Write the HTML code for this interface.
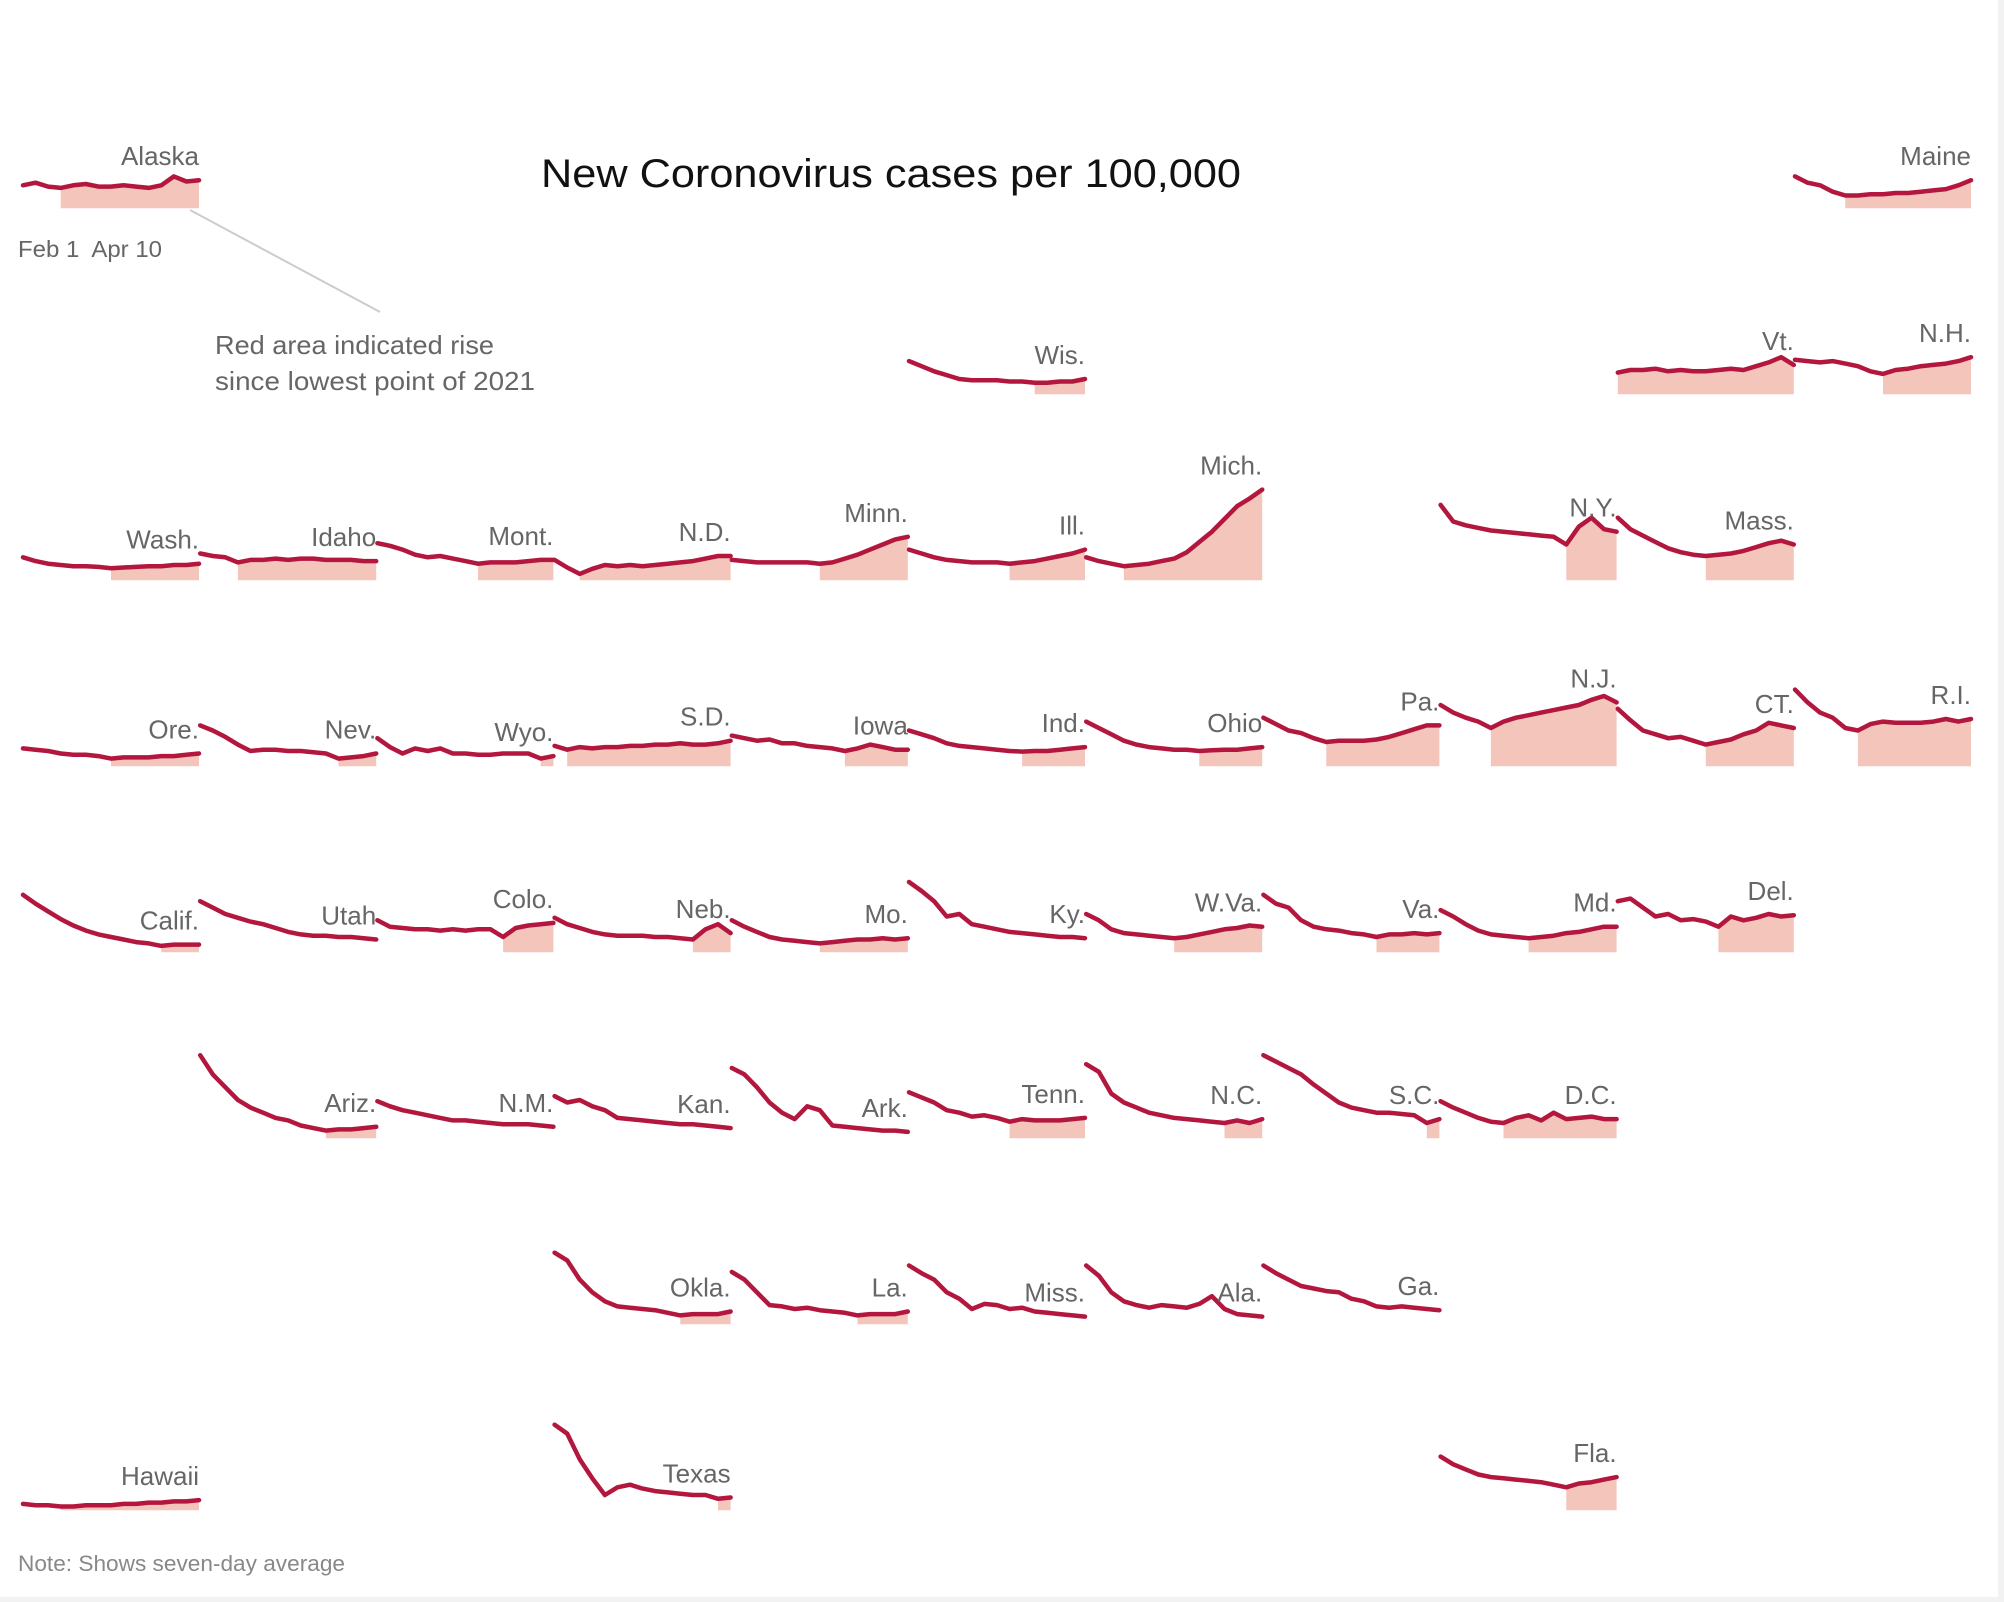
<!DOCTYPE html>
<html><head><meta charset="utf-8">
<style>
html,body{margin:0;padding:0;background:#fff;}
svg{display:block;}
text{font-family:"Liberation Sans",sans-serif;}
</style></head>
<body>
<svg id="chart" width="2004" height="1602" viewBox="0 0 2004 1602">
  <rect x="1998" y="0" width="6" height="1602" fill="#f2f2f2"/>
  <rect x="0" y="1597" width="2004" height="5" fill="#f2f2f2"/>
  <text x="891" y="187" font-size="40" fill="#111" text-anchor="middle" textLength="700" lengthAdjust="spacingAndGlyphs">New Coronovirus cases per 100,000</text>
  <text x="18" y="257" font-size="23" fill="#666" xml:space="preserve" textLength="144" lengthAdjust="spacingAndGlyphs">Feb 1  Apr 10</text>
  <line x1="190" y1="210" x2="380" y2="312" stroke="#ccc" stroke-width="2"/>
  <text x="215" y="354" font-size="26" fill="#666" textLength="279" lengthAdjust="spacingAndGlyphs">Red area indicated rise</text>
  <text x="215" y="390" font-size="26" fill="#666" textLength="320" lengthAdjust="spacingAndGlyphs">since lowest point of 2021</text>
  <text x="18" y="1571" font-size="22" fill="#888" textLength="327" lengthAdjust="spacingAndGlyphs">Note: Shows seven-day average</text>
  <g id="tiles"></g>
</svg>
<script>
// Seven-day average new cases per 100,000, sampled Feb 1 – Apr 10
const alaska=[18,20,17,16,18,19,17,17,18,17,16,18,25,21,22];
const maine=[25,20,18,13,10,10,11,11,12,12,13,14,15,18,22];
const wis=[26,22,18,15,12,11,11,11,10,10,9,9,10,10,12];
const vt=[17,19,19,20,18,19,18,18,19,20,19,22,25,29,23];
const nh=[27,26,25,26,24,22,18,16,19,20,22,23,24,26,29];
const wash=[18,15,13,12,11,11,10.5,9.5,10,10.5,11,11,12,12,13];
const idaho=[21,19,18,14,16,16,17,16,17,17,16,16,16,15,15];
const mont=[29,27,24,20,18,19,17,15,13,14,14,14,15,16,16];
const nd=[16,10,5,9,12,11,12,11,12,13,14,15,17,19,19];
const minn=[16,15,14,14,14,14,14,13,14,17,20,24,28,32,34];
const ill=[24,21,18,16,15,14,14,14,13,14,15,17,19,21,24];
const mich=[18,15,13,11,12,13,15,17,22,30,38,48,58,64,71];
const ny=[59,46,43,41,39,38,37,36,35,34,28,42,49,40,38];
const mass=[49,40,35,30,25,22,20,19,20,21,23,26,29,31,28];
const ore=[14,13,12,10,9,9,8,6,7,7,7,8,8,9,10];
const nev=[32,28,23,17,12,13,13,12,12,11,10,6,7,8,10];
const wyo=[22,15,10,14,12,14,10,10,9,9,10,10,10,6,8];
const sd=[16,13,15,14,15,15,16,16,17,17,18,17,17,18,20];
const iowa=[24,22,20,21,18,18,16,15,14,12,14,17,15,13,13];
const ind=[28,25,22,18,16,15,14,13,12,11.5,12,12,13,14,15];
const ohio=[35,30,25,20,17,15,14,13,13,12,12.5,13,13,14,15];
const pa=[38,33,28,26,22,19,20,20,20,21,23,26,29,32,32];
const nj=[48,42,38,35,30,35,38,40,42,44,46,48,52,55,50];
const ct=[45,36,28,25,22,23,20,17,19,21,25,28,34,32,30];
const ri=[60,50,42,38,30,28,33,35,34,34,34,35,37,35,37];
const calif=[45,38,32,26,21,17,14,12,10,8,7,5,6,6,6];
const utah=[40,35,30,27,24,22,19,16,14,13,13,12,12,11,10];
const colo=[25,20,19,18,18,17,18,17,18,18,12,19,21,22,23];
const neb=[27,22,19,16,14,13,13,13,12,12,11,10,18,22,15];
const mo=[25,20,16,12,10,9,8,7,8,9,10,10,11,10,11];
const ky=[55,48,40,28,30,22,20,18,16,15,14,13,12,12,11];
const wva=[30,25,18,15,14,13,12,11,12,14,16,18,19,21,20];
const va=[45,38,35,25,20,18,17,15,14,12,14,14,15,14,15];
const md=[33,28,22,17,14,13,12,11,12,13,15,16,18,20,20];
const del=[40,42,35,28,30,25,26,24,20,28,25,27,30,28,29];
const ariz=[65,50,40,30,24,20,16,14,10,8,6,7,7,8,9];
const nm=[29,25,22,20,18,16,14,14,13,12,11,11,11,10,9];
const kan=[33,28,30,25,22,16,15,14,13,12,11,11,10,9,8];
const ark=[55,50,40,28,20,15,25,22,10,9,8,7,6,6,5];
const tenn=[36,32,28,22,20,17,18,16,13,15,14,14,14,15,16];
const nc=[58,52,35,28,24,20,18,16,15,14,13,12,14,12,15];
const sc=[65,60,55,50,42,35,28,24,22,20,20,19,18,12,15];
const dc=[29,24,20,16,13,12,16,18,14,20,15,16,17,15,15];
const okla=[56,50,35,25,18,14,13,12,11,9,7,8,8,8,10];
const la=[41,35,25,15,14,12,13,11,10,9,7,8,8,8,10];
const miss=[46,40,35,25,20,12,16,15,12,13,10,9,8,7,6];
const ala=[46,38,25,18,15,13,15,14,13,16,22,12,8,7,6];
const ga=[46,40,35,30,28,26,25,20,18,14,13,14,13,12,11];
const hawaii=[5,4,4,3,3,4,4,4,5,5,6,6,7,7,8];
const texas=[67,60,40,25,12,18,20,17,15,14,13,12,12,9,10];
const fla=[42,36,32,28,26,25,24,23,22,20,18,21,22,24,26];

const labels=["Alaska","Maine","Wis.","Vt.","N.H.","Wash.","Idaho","Mont.","N.D.","Minn.","Ill.","Mich.","N.Y.","Mass.","Ore.","Nev.","Wyo.","S.D.","Iowa","Ind.","Ohio","Pa.","N.J.","CT.","R.I.","Calif.","Utah","Colo.","Neb.","Mo.","Ky.","W.Va.","Va.","Md.","Del.","Ariz.","N.M.","Kan.","Ark.","Tenn.","N.C.","S.C.","D.C.","Okla.","La.","Miss.","Ala.","Ga.","Hawaii","Texas","Fla."];
const series=[alaska,maine,wis,vt,nh,wash,idaho,mont,nd,minn,ill,mich,ny,mass,ore,nev,wyo,sd,iowa,ind,ohio,pa,nj,ct,ri,calif,utah,colo,neb,mo,ky,wva,va,md,del,ariz,nm,kan,ark,tenn,nc,sc,dc,okla,la,miss,ala,ga,hawaii,texas,fla];
const gridCols=[0,10,5,9,10,0,1,2,3,4,5,6,8,9,0,1,2,3,4,5,6,7,8,9,10,0,1,2,3,4,5,6,7,8,9,1,2,3,4,5,6,7,8,3,4,5,6,7,0,3,8];
const gridRows=[0,0,1,1,1,2,2,2,2,2,2,2,2,2,3,3,3,3,3,3,3,3,3,3,3,4,4,4,4,4,4,4,4,4,4,5,5,5,5,5,5,5,5,6,6,6,6,6,7,7,7];

const NS="http://www.w3.org/2000/svg";
const g=document.getElementById('tiles');
const tileW=176, colPitch=177.2, col0=23, row0=208.3, rowPitch=186, pxPerCase=1.278;
function xPos(c,i,n){return col0+c*colPitch+i*tileW/(n-1);}
function yPos(r,v){return row0+r*rowPitch-v*pxPerCase;}

series.forEach((vals,k)=>{
  const c=gridCols[k], r=gridRows[k], n=vals.length;
  const base=row0+r*rowPitch;
  let mi=0; vals.forEach((v,i)=>{if(v<vals[mi])mi=i;});
  const slug=labels[k].toLowerCase().replace(/[^a-z]+/g,'-').replace(/-+$/,'');
  const grp=document.createElementNS(NS,'g');
  
  
  if(mi<n-1){
    let d='M'+xPos(c,mi,n).toFixed(1)+','+base;
    for(let i=mi;i<n;i++) d+=' L'+xPos(c,i,n).toFixed(1)+','+yPos(r,vals[i]).toFixed(1);
    d+=' L'+xPos(c,n-1,n).toFixed(1)+','+base+' Z';
    const a=document.createElementNS(NS,'path');
    a.setAttribute('d',d); a.setAttribute('fill','#f4c5bb');
    
    
    grp.appendChild(a);
  }
  let ld='';
  vals.forEach((v,i)=>{ld+=(i?' L':'M')+xPos(c,i,n).toFixed(1)+','+yPos(r,v).toFixed(1);});
  const p=document.createElementNS(NS,'path');
  p.setAttribute('d',ld); p.setAttribute('fill','none'); p.setAttribute('stroke','#b3173e');
  p.setAttribute('stroke-width','4.5'); p.setAttribute('stroke-linejoin','round'); p.setAttribute('stroke-linecap','round');
  
  
  grp.appendChild(p);
  const t=document.createElementNS(NS,'text');
  t.setAttribute('x',(xPos(c,n-1,n)).toFixed(1));
  t.setAttribute('y',(yPos(r,vals[n-1])-15).toFixed(1));
  t.setAttribute('text-anchor','end'); t.setAttribute('font-size','26'); t.setAttribute('fill','#666');
  t.textContent=labels[k];
  
  
  grp.appendChild(t);
  g.appendChild(grp);
});
</script>
</body></html>
